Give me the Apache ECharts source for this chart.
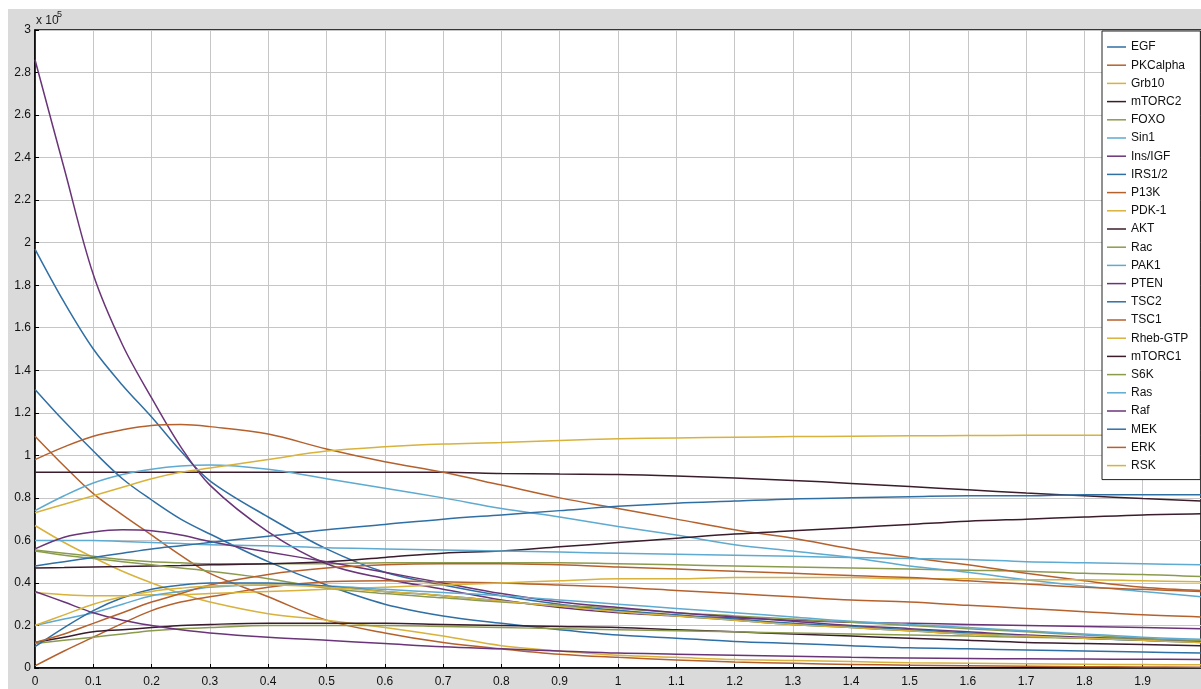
<!DOCTYPE html>
<html>
<head>
<meta charset="utf-8">
<script src="https://cdn.jsdelivr.net/npm/echarts@6/dist/echarts.min.js"></script>
<style>
  html, body { margin: 0; padding: 0; background: #fff; }
  #chart { width: 1201px; height: 689px; }
</style>
</head>
<body>
<div id="chart"></div>
<script>
// Time points (x axis) and concentrations (x 10^5)
const xs = [0, 0.05, 0.1, 0.15, 0.2, 0.25, 0.3, 0.4, 0.5, 0.6, 0.7, 0.8, 0.9, 1.0, 1.1, 1.2, 1.3, 1.4, 1.5, 1.6, 1.7, 1.8, 1.9, 2.0];

const EGF      = [1.97, 1.72, 1.50, 1.33, 1.18, 1.02, 0.88, 0.71, 0.56, 0.45, 0.39, 0.34, 0.30, 0.27, 0.245, 0.225, 0.205, 0.19, 0.175, 0.16, 0.15, 0.14, 0.13, 0.125];
const PKCalpha = [1.09, 0.95, 0.82, 0.72, 0.625, 0.53, 0.445, 0.335, 0.225, 0.165, 0.12, 0.09, 0.065, 0.05, 0.038, 0.028, 0.022, 0.017, 0.013, 0.01, 0.008, 0.006, 0.005, 0.004];
const Grb10    = [0.67, 0.59, 0.52, 0.455, 0.40, 0.35, 0.31, 0.255, 0.225, 0.19, 0.15, 0.105, 0.08, 0.06, 0.05, 0.04, 0.035, 0.03, 0.025, 0.022, 0.02, 0.018, 0.016, 0.015];
const mTORC2   = [0.92, 0.92, 0.92, 0.92, 0.92, 0.92, 0.92, 0.92, 0.92, 0.92, 0.92, 0.915, 0.912, 0.91, 0.903, 0.893, 0.882, 0.868, 0.853, 0.838, 0.823, 0.81, 0.797, 0.785];
const FOXO     = [0.555, 0.54, 0.525, 0.51, 0.50, 0.495, 0.49, 0.49, 0.49, 0.495, 0.495, 0.495, 0.495, 0.49, 0.485, 0.48, 0.475, 0.47, 0.465, 0.46, 0.455, 0.445, 0.44, 0.43];
const Sin1     = [0.74, 0.81, 0.87, 0.91, 0.935, 0.95, 0.955, 0.935, 0.89, 0.845, 0.80, 0.75, 0.71, 0.665, 0.625, 0.58, 0.55, 0.52, 0.48, 0.45, 0.415, 0.385, 0.36, 0.335];
const InsIGF   = [2.86, 2.35, 1.85, 1.52, 1.27, 1.04, 0.86, 0.64, 0.49, 0.42, 0.37, 0.32, 0.285, 0.26, 0.245, 0.235, 0.225, 0.215, 0.21, 0.205, 0.20, 0.195, 0.19, 0.185];
const IRS12    = [1.31, 1.16, 1.02, 0.89, 0.79, 0.70, 0.63, 0.50, 0.39, 0.30, 0.245, 0.21, 0.18, 0.155, 0.14, 0.125, 0.115, 0.105, 0.095, 0.09, 0.085, 0.08, 0.075, 0.07];
const P13K     = [0.98, 1.04, 1.09, 1.12, 1.14, 1.145, 1.135, 1.10, 1.03, 0.97, 0.92, 0.86, 0.80, 0.75, 0.70, 0.65, 0.61, 0.56, 0.52, 0.485, 0.445, 0.41, 0.38, 0.365];
const PDK1     = [0.73, 0.77, 0.81, 0.85, 0.89, 0.92, 0.94, 0.98, 1.02, 1.04, 1.053, 1.06, 1.07, 1.078, 1.082, 1.085, 1.088, 1.09, 1.092, 1.093, 1.094, 1.095, 1.095, 1.095];
const AKT      = [0.47, 0.472, 0.475, 0.477, 0.48, 0.482, 0.485, 0.49, 0.50, 0.52, 0.54, 0.55, 0.57, 0.59, 0.61, 0.63, 0.645, 0.66, 0.675, 0.69, 0.70, 0.71, 0.72, 0.725];
const Rac      = [0.55, 0.53, 0.515, 0.50, 0.485, 0.47, 0.455, 0.42, 0.375, 0.35, 0.33, 0.31, 0.295, 0.28, 0.26, 0.245, 0.23, 0.215, 0.20, 0.185, 0.17, 0.155, 0.14, 0.125];
const PAK1     = [0.60, 0.60, 0.60, 0.595, 0.59, 0.585, 0.58, 0.575, 0.565, 0.56, 0.555, 0.55, 0.545, 0.54, 0.535, 0.53, 0.525, 0.52, 0.515, 0.51, 0.50, 0.495, 0.49, 0.485];
const PTEN     = [0.56, 0.615, 0.64, 0.65, 0.645, 0.625, 0.595, 0.545, 0.50, 0.45, 0.40, 0.35, 0.31, 0.285, 0.26, 0.24, 0.22, 0.20, 0.185, 0.17, 0.155, 0.145, 0.135, 0.125];
const TSC2     = [0.48, 0.50, 0.52, 0.54, 0.56, 0.575, 0.59, 0.62, 0.65, 0.675, 0.70, 0.72, 0.74, 0.76, 0.775, 0.785, 0.795, 0.80, 0.805, 0.81, 0.81, 0.815, 0.815, 0.815];
const TSC1     = [0.01, 0.08, 0.145, 0.21, 0.27, 0.31, 0.335, 0.38, 0.405, 0.41, 0.405, 0.40, 0.39, 0.38, 0.365, 0.35, 0.335, 0.32, 0.31, 0.295, 0.28, 0.265, 0.25, 0.24];
const RhebGTP  = [0.355, 0.345, 0.34, 0.34, 0.345, 0.345, 0.35, 0.36, 0.37, 0.38, 0.39, 0.40, 0.41, 0.42, 0.42, 0.425, 0.425, 0.425, 0.42, 0.42, 0.415, 0.415, 0.41, 0.405];
const mTORC1   = [0.12, 0.145, 0.17, 0.18, 0.19, 0.20, 0.205, 0.21, 0.21, 0.21, 0.205, 0.20, 0.195, 0.19, 0.18, 0.17, 0.16, 0.15, 0.14, 0.13, 0.12, 0.115, 0.11, 0.105];
const S6K      = [0.115, 0.13, 0.145, 0.16, 0.175, 0.185, 0.19, 0.20, 0.20, 0.20, 0.195, 0.19, 0.185, 0.18, 0.175, 0.17, 0.165, 0.16, 0.155, 0.15, 0.145, 0.14, 0.135, 0.13];
const Ras      = [0.20, 0.23, 0.26, 0.30, 0.34, 0.36, 0.38, 0.39, 0.385, 0.37, 0.355, 0.34, 0.32, 0.30, 0.28, 0.26, 0.24, 0.22, 0.205, 0.19, 0.175, 0.16, 0.145, 0.135];
const Raf      = [0.36, 0.31, 0.26, 0.225, 0.20, 0.18, 0.165, 0.145, 0.13, 0.115, 0.10, 0.09, 0.08, 0.07, 0.065, 0.06, 0.055, 0.05, 0.047, 0.045, 0.043, 0.042, 0.041, 0.04];
const MEK      = [0.10, 0.19, 0.27, 0.33, 0.37, 0.39, 0.40, 0.40, 0.385, 0.36, 0.34, 0.315, 0.29, 0.27, 0.25, 0.23, 0.21, 0.195, 0.18, 0.165, 0.15, 0.14, 0.13, 0.12];
const ERK      = [0.12, 0.16, 0.21, 0.26, 0.31, 0.35, 0.39, 0.44, 0.47, 0.485, 0.49, 0.49, 0.485, 0.475, 0.465, 0.455, 0.445, 0.435, 0.425, 0.41, 0.395, 0.38, 0.37, 0.36];
const RSK      = [0.20, 0.25, 0.30, 0.335, 0.36, 0.375, 0.385, 0.39, 0.38, 0.36, 0.34, 0.315, 0.29, 0.265, 0.245, 0.225, 0.205, 0.19, 0.175, 0.16, 0.15, 0.14, 0.13, 0.12];

const names = ['EGF', 'PKCalpha', 'Grb10', 'mTORC2', 'FOXO', 'Sin1', 'Ins/IGF', 'IRS1/2', 'P13K', 'PDK-1', 'AKT', 'Rac', 'PAK1', 'PTEN', 'TSC2', 'TSC1', 'Rheb-GTP', 'mTORC1', 'S6K', 'Ras', 'Raf', 'MEK', 'ERK', 'RSK'];
const values = [EGF, PKCalpha, Grb10, mTORC2, FOXO, Sin1, InsIGF, IRS12, P13K, PDK1, AKT, Rac, PAK1, PTEN, TSC2, TSC1, RhebGTP, mTORC1, S6K, Ras, Raf, MEK, ERK, RSK];

// seven-colour line cycle
const palette = ['#2f6fa4', '#b5612d', '#d8b23c', '#3a1c2c', '#8b9b4e', '#5eaad0', '#6a3478'];
const yTicks = [0, 0.2, 0.4, 0.6, 0.8, 1, 1.2, 1.4, 1.6, 1.8, 2, 2.2, 2.4, 2.6, 2.8, 3];

const series = names.map((name, i) => ({
  name: name,
  type: 'line',
  data: xs.map((x, k) => [x, values[i][k]]),
  smooth: 0.35,
  symbol: 'none',
  lineStyle: { width: 1.5, color: palette[i % 7] },
  itemStyle: { color: palette[i % 7] },
  z: 3
}));

const chart = echarts.init(document.getElementById('chart'), null, { renderer: 'canvas' });
chart.setOption({
  animation: false,
  backgroundColor: '#ffffff',
  graphic: [
    { type: 'rect', z: -10, silent: true, shape: { x: 8, y: 9, width: 1193, height: 680 }, style: { fill: '#dadada' } },
    { type: 'text', z: 10, left: 36, top: 15, style: { text: 'x 10', font: '12px "Liberation Sans", Arial, sans-serif', fill: '#1a1a1a' } },
    { type: 'text', z: 10, left: 57, top: 10, style: { text: '5', font: '9px "Liberation Sans", Arial, sans-serif', fill: '#1a1a1a' } }
  ],
  grid: {
    left: 35, top: 30, right: 0, bottom: 21,
    show: true, backgroundColor: '#ffffff', borderColor: '#000', borderWidth: 1.5, z: 0
  },
  legend: {
    orient: 'vertical',
    left: 1102, top: 31,
    padding: [10, 12, 8, 5],
    icon: 'rect',
    itemWidth: 19, itemHeight: 1.5, itemGap: 6.2,
    backgroundColor: '#ffffff',
    borderColor: '#222', borderWidth: 1,
    textStyle: { fontFamily: '"Liberation Sans", Arial, sans-serif', fontSize: 12, color: '#111' },
    data: names
  },
  xAxis: {
    type: 'value', min: 0, max: 2, interval: 0.1,
    axisLine: { show: true, onZero: false, lineStyle: { color: '#000', width: 1.5 } },
    axisTick: { show: true, inside: true, length: 4, lineStyle: { color: '#000' } },
    axisLabel: { showMaxLabel: false, margin: 8, fontFamily: '"Liberation Sans", Arial, sans-serif', fontSize: 12, color: '#111' },
    splitLine: { show: true, lineStyle: { color: '#c6c6c6', width: 1 } }
  },
  yAxis: {
    type: 'value', min: 0, max: 3, interval: 0.2,
    axisLine: { show: true, onZero: false, lineStyle: { color: '#000', width: 1.5 } },
    axisTick: { show: true, inside: true, length: 4, lineStyle: { color: '#000' } },
    axisLabel: {
      margin: 4, fontFamily: '"Liberation Sans", Arial, sans-serif', fontSize: 12, color: '#111',
      formatter: v => yTicks.find(t => Math.abs(t - v) < 1e-6) !== undefined ? String(+v.toFixed(1)) : ''
    },
    splitLine: { show: true, lineStyle: { color: '#c6c6c6', width: 1 } }
  },
  series: series
});
</script>
</body>
</html>
